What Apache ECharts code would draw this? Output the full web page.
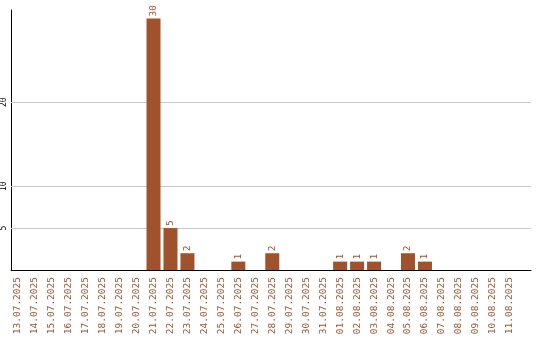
<!DOCTYPE html>
<html>
<head>
<meta charset="utf-8">
<script src="https://cdn.jsdelivr.net/npm/echarts@6/dist/echarts.min.js"></script>
<style>html,body{margin:0;padding:0;background:#fff}#c{width:540px;height:340px}</style>
</head>
<body>
<div id="c"></div>
<script>
const categories = ["13.07.2025","14.07.2025","15.07.2025","16.07.2025","17.07.2025","18.07.2025","19.07.2025","20.07.2025","21.07.2025","22.07.2025","23.07.2025","24.07.2025","25.07.2025","26.07.2025","27.07.2025","28.07.2025","29.07.2025","30.07.2025","31.07.2025","01.08.2025","02.08.2025","03.08.2025","04.08.2025","05.08.2025","06.08.2025","07.08.2025","08.08.2025","09.08.2025","10.08.2025","11.08.2025"];
const values = [0,0,0,0,0,0,0,0,30,5,2,0,0,1,0,2,0,0,0,1,1,1,0,2,1,0,0,0,0,0];
const yTicks = [5,10,20];

const brown = '#a0522d';
const font = 'DejaVu Sans Mono';
const chart = echarts.init(document.getElementById('c'), null, {renderer:'canvas'});
chart.setOption({
  animation:false,
  backgroundColor:'#fff',
  grid:{left:10,right:9,top:10,bottom:70,containLabel:false},
  xAxis:{
    type:'value', min:-0.4, max:30.25,
    axisLine:{show:true,onZero:false,lineStyle:{color:'#000',width:1}},
    axisTick:{show:false},
    splitLine:{show:false},
    axisLabel:{
      customValues: categories.map((c,i)=>i),
      rotate:90, margin:7, color:brown, fontFamily:font, fontSize:9.5,
      formatter:(v)=>categories[Math.round(v)] || ''
    }
  },
  yAxis:{
    type:'value', min:0, max:31, interval:5,
    axisLine:{show:true,onZero:false,lineStyle:{color:'#000',width:1}},
    axisTick:{show:false},
    splitLine:{show:false},
    axisLabel:{
      rotate:90, margin:3, color:'#000', fontFamily:font, fontSize:8,
      formatter:(v)=> yTicks.includes(v) ? String(v) : ''
    }
  },
  series:[{
    type:'bar',
    z:2,
    barWidth:14,
    data: values.map((v,i)=>[i,v]),
    itemStyle:{color:brown},
    label:{
      show:true, position:'top', rotate:90, align:'left', verticalAlign:'middle',
      distance:2, color:brown, fontFamily:font, fontSize:9.5,
      formatter:(p)=> p.value[1] ? String(p.value[1]) : ''
    },
    markLine:{
      silent:true, z:1, symbol:'none', animation:false,
      label:{show:false},
      lineStyle:{color:'#c8c8c8',type:'solid',width:1},
      data: yTicks.map(t=>({yAxis:t}))
    }
  }]
});
</script>
</body>
</html>
